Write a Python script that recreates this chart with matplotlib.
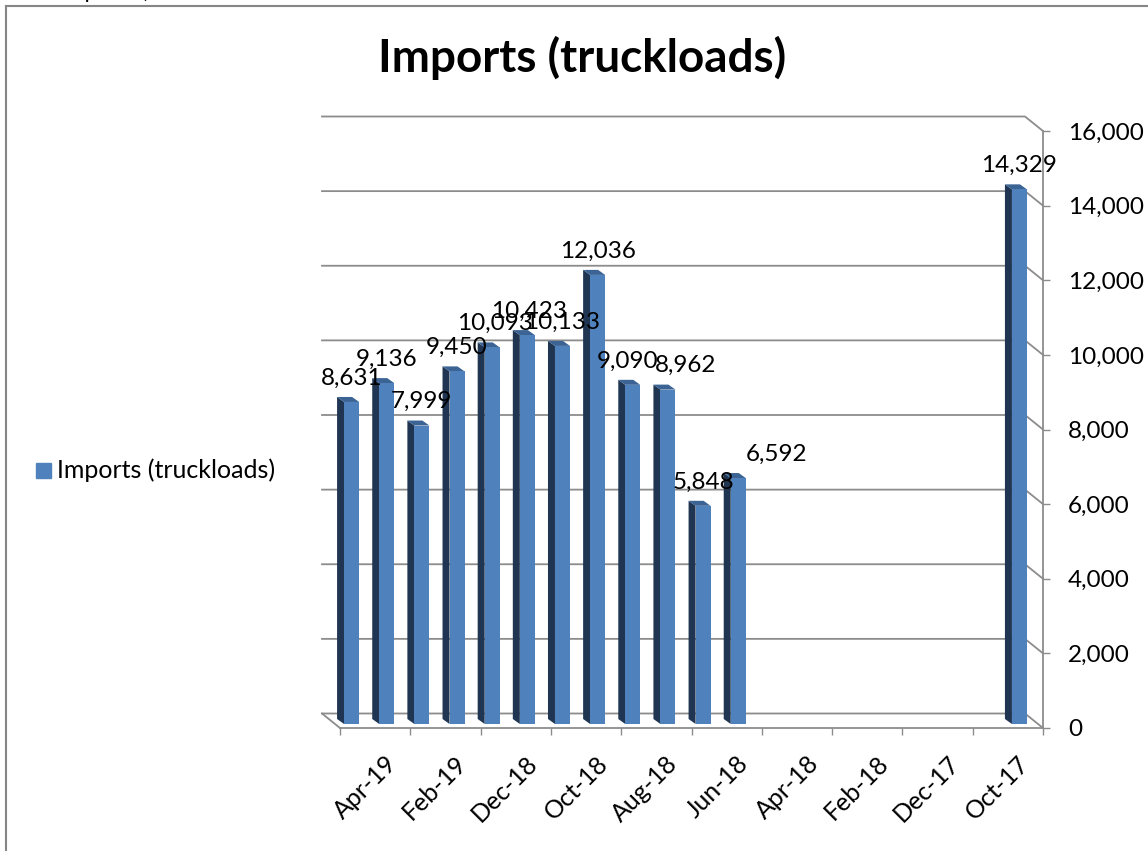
import matplotlib
matplotlib.use('Agg')
import matplotlib.pyplot as plt
import numpy as np
from matplotlib.patches import Polygon, Rectangle
from matplotlib.lines import Line2D
from matplotlib.transforms import ScaledTranslation

# Data (most recent month first)
months = ['May-19', 'Apr-19', 'Mar-19', 'Feb-19', 'Jan-19', 'Dec-18', 'Nov-18',
          'Oct-18', 'Sep-18', 'Aug-18', 'Jul-18', 'Jun-18', 'May-18', 'Apr-18',
          'Mar-18', 'Feb-18', 'Jan-18', 'Dec-17', 'Nov-17', 'Oct-17']
truckloads = [8631, 9136, 7999, 9450, 10093, 10423, 10133, 12036, 9090, 8962,
              5848, 6592, None, None, None, None, None, None, None, 14329]
tick_labels = months[1::2]
series_name = 'Imports (truckloads)'

# hand-placed data labels in the original (pixel nudges)
label_nudge = [0, 0, 0, 0, 3, 2, 0, 0, -5, 18, 0, 38, 0, 0, 0, 0, 0, 0, 0, 0]

plt.rcParams['font.family'] = ['Lato', 'DejaVu Sans']

W, H = 1148, 851
fig = plt.figure(figsize=(W / 100, H / 100), dpi=100)
ax = fig.add_axes([340 / W, 1 - 728 / H, 703 / W, 597 / H])
n = len(months)
ymax = 16000
ax.set_xlim(0, n)
ax.set_ylim(0, ymax)

grid_c = '#8c8c8c'
front_c = '#4f81bd'
side_c = '#1f3552'
top_c = '#3b6394'

# pixel -> data unit helpers (for the fake 3D depth)
ux = n / 703
uy = ymax / 597


def px(dx, dy):
    return dx * ux, dy * uy


back = px(-18, 14.5)
bar_front = px(-6, 4)
bar_depth = px(-7, 5)
bw = 15 * ux

# back wall gridlines + connectors to the front axis
for v in range(0, ymax + 1, 2000):
    ax.plot([back[0], n + back[0], n], [v + back[1], v + back[1], v],
            color=grid_c, lw=1.3, clip_on=False, zorder=1)
# floor left edge
ax.plot([back[0], 0], [back[1], 0], color=grid_c, lw=1.3, clip_on=False, zorder=1)

# bars
for i, v in enumerate(truckloads):
    if v is None:
        continue
    xc = i + 0.5 + bar_front[0]
    xl = xc - bw / 2
    xr = xc + bw / 2
    y0 = bar_front[1]
    yt = v + bar_front[1]
    dx, dy = bar_depth
    ax.add_patch(Polygon([(xl, y0), (xl, yt), (xl + dx, yt + dy), (xl + dx, y0 + dy)],
                         closed=True, facecolor=side_c, edgecolor='none', zorder=3, clip_on=False))
    ax.add_patch(Polygon([(xl, yt), (xr, yt), (xr + dx, yt + dy), (xl + dx, yt + dy)],
                         closed=True, facecolor=top_c, edgecolor='none', zorder=3, clip_on=False))
    ax.bar(xc, v, width=bw, bottom=y0, color=front_c, zorder=4, clip_on=False)
    ax.annotate(f'{v:,}', (xc, yt), xytext=(label_nudge[i] * 0.72, 12.5),
                textcoords='offset points', ha='center', va='baseline',
                fontsize=17.5, zorder=6)

# axes styling
for s in ['left', 'top']:
    ax.spines[s].set_visible(False)
for s in ['right', 'bottom']:
    ax.spines[s].set_color(grid_c)
    ax.spines[s].set_linewidth(1.3)

ax.yaxis.tick_right()
ax.set_yticks(range(0, ymax + 1, 2000))
ax.yaxis.set_major_formatter(matplotlib.ticker.StrMethodFormatter('{x:,.0f}'))
ax.tick_params(axis='y', length=5, width=1, color=grid_c, pad=13, labelsize=17.5)

ax.set_xticks(np.arange(0, n + 1, 2), minor=True)
ax.set_xticks(np.arange(1, n, 2) + 0.5)
ax.set_xticklabels(tick_labels, rotation=45, ha='right', rotation_mode='anchor', fontsize=18)
ax.tick_params(axis='x', which='major', length=0, pad=17)
ax.tick_params(axis='x', which='minor', length=5, width=1, color=grid_c)
shift = ScaledTranslation(-8 / 100, 0, fig.dpi_scale_trans)
for lbl in ax.get_xticklabels():
    lbl.set_transform(lbl.get_transform() + shift)

# title and legend
fig.text(582 / W, 1 - 72 / H, series_name, ha='center', va='baseline',
         fontsize=33, fontweight='bold')
fig.add_artist(Rectangle((36 / W, 1 - 478 / H), 15 / W, 15 / H, color=front_c))
fig.text(57 / W, 1 - 470 / H, series_name, ha='left', va='center', fontsize=18)

# chart frame and clipped text above it
fig.add_artist(Line2D([6 / W, 6 / W], [0, 1 - 6 / H], color='#868686', lw=1.5))
fig.add_artist(Line2D([6 / W, 1], [1 - 6 / H, 1 - 6 / H], color='#868686', lw=1.5))
fig.text(60 / W, 1 + 2 / H, 'Imports (', ha='left', va='baseline', fontsize=16)

fig.savefig('out.png', dpi=100)
